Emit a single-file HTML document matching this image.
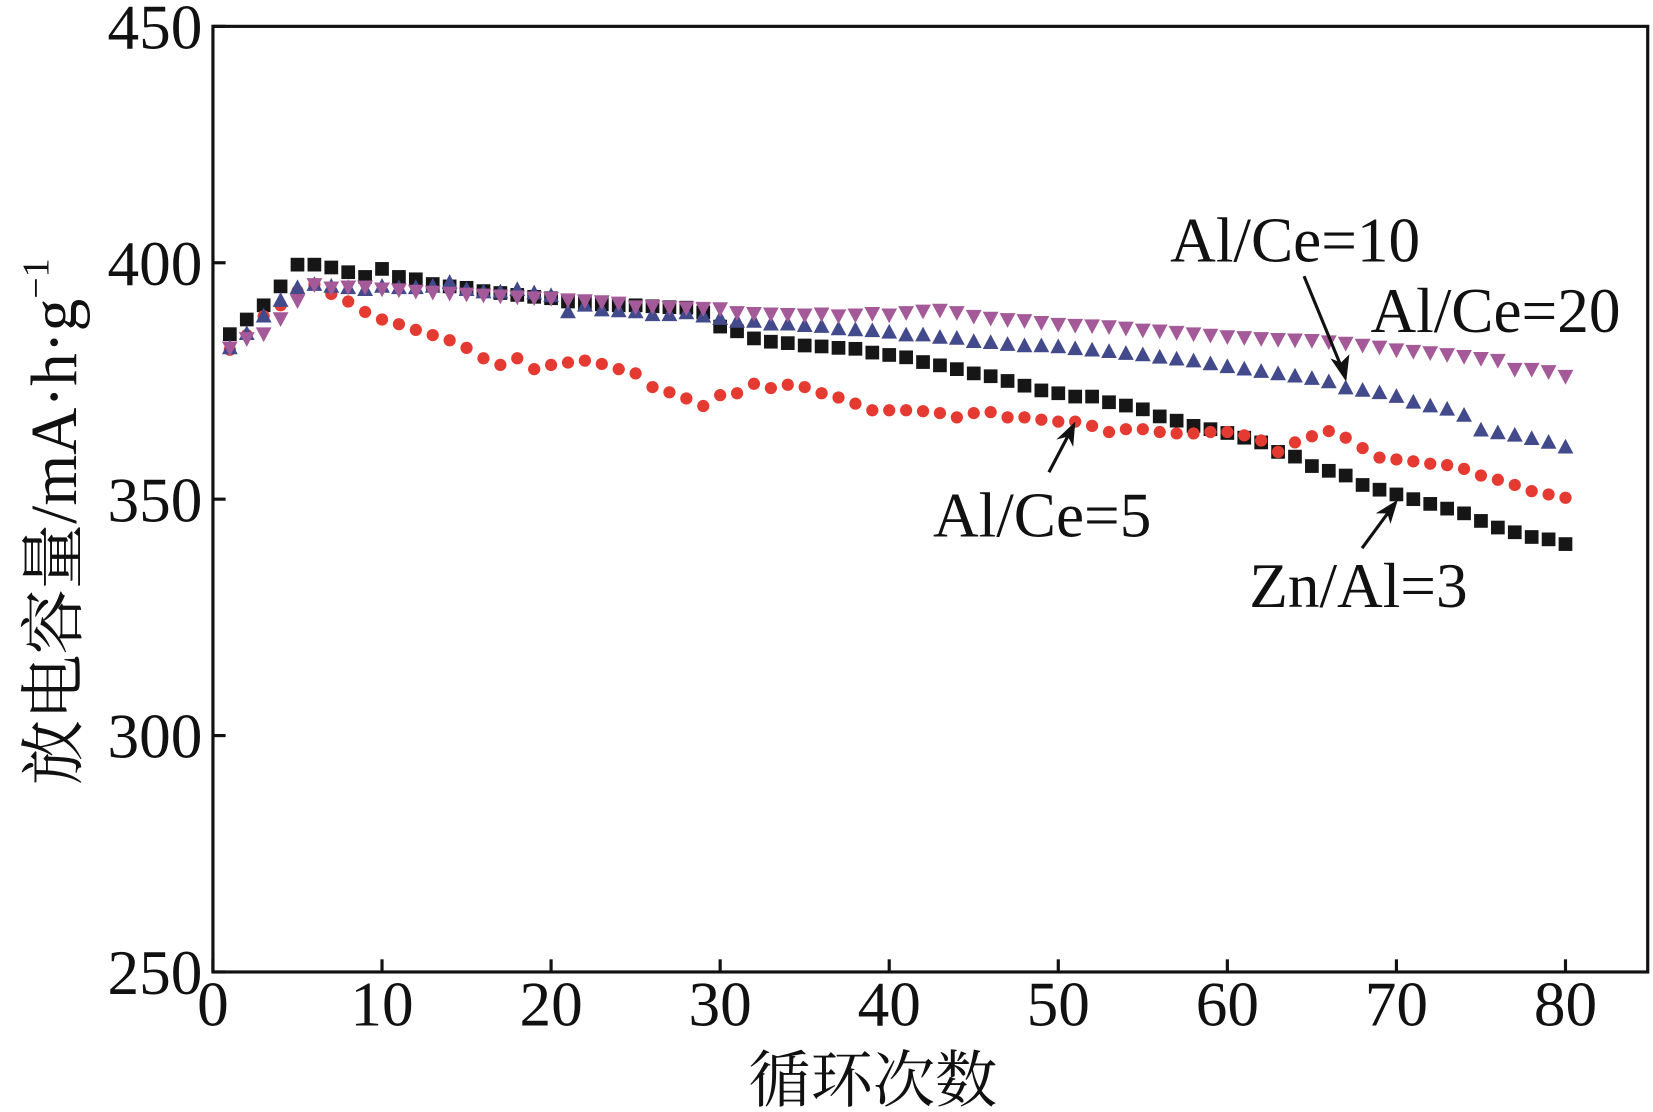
<!DOCTYPE html>
<html><head><meta charset="utf-8"><style>
body{margin:0;background:#fff}
svg{display:block}
text{font-family:"Liberation Serif","Noto Serif CJK SC",serif;fill:#111}
</style></head><body>
<svg id="chart" width="1653" height="1112" viewBox="0 0 1653 1112">
<g transform="scale(1.0542)">
<rect x="202" y="25" width="1361" height="897" fill="none" stroke="#111" stroke-width="3"/>
<g id="axes"></g>
<g id="series"></g>
<g>
<text x="1110" y="248" font-size="60">Al/Ce=10</text>
<text x="1300" y="315" font-size="60">Al/Ce=20</text>
<text x="885" y="509" font-size="60">Al/Ce=5</text>
<text x="1185" y="576" font-size="60">Zn/Al=3</text>
<line x1="1237" y1="262" x2="1274" y2="352" stroke="#111" stroke-width="3"/>
<polygon points="1277,362 1262,340 1272,344 1280,336" fill="#111"/>
<line x1="995" y1="448" x2="1016" y2="408" stroke="#111" stroke-width="3"/>
<polygon points="1020,400 1018,424 1013,414 1002,417" fill="#111"/>
<line x1="1292" y1="520" x2="1320" y2="482" stroke="#111" stroke-width="3"/>
<polygon points="1326,474 1319,497 1316,487 1305,487" fill="#111"/>
</g>
<text x="828" y="1045" font-size="59" text-anchor="middle">循环次数</text>
<text transform="translate(72,495) rotate(-90)" font-size="62" text-anchor="middle">放电容量/mA·h·g<tspan font-size="36" dy="-26">−1</tspan></text>
</g>
</svg>
<script>
const xTicks=[0,10,20,30,40,50,60,70,80];
const yTicks=[250,300,350,400,450];
const znal3=[384.9,388,391,395,399.6,399.6,399,398,397,398.7,397,396.5,395.5,395,394.7,394,393.6,393.2,392.8,392.5,391.8,391.5,391.2,391,391,390.8,390.6,390.5,389.5,386.5,385.5,384,383.3,383,382.5,382.3,382,381.8,381,380.5,380,379,378.3,377.5,376.6,376,375,374,373,372.4,371.7,371.7,370.5,369.8,369,367.5,366.6,365.5,364.8,364,363,362,360,359,357,356,355,353,352,351,350,349,348,347,345.4,344,343,342,341.5,340.5];
const alce5=[381.6,384.7,388.7,391,394,395.4,393.4,391.8,389.6,388,387,385.8,384.7,383.6,382,379.8,378.4,379.8,377.5,378.4,378.9,379.3,378.6,377.5,376.6,373.7,372.6,371.3,369.7,372,372.4,374.4,373.5,374.2,373.7,372.4,371.5,370.2,368.8,368.8,368.8,368.6,368.2,367.3,368.2,368.4,367.3,367.3,366.8,366.4,366.4,365.5,364.2,364.8,364.8,364.2,363.9,363.9,364.2,364.2,363.5,362.4,360,362,363.3,364.4,363,360.8,358.8,358.4,358,357.5,357.2,356.4,355,354.1,353,351.7,351,350.3];
const alce10=[382,385,388.7,392,394.7,395.4,395,394.7,394.3,395,394.7,394.7,395,395.8,394.3,393.8,393.8,394.3,393.6,393,389.6,391,390,389.8,389.6,389,389,389.4,388.7,388.2,387.6,387.6,387,387,386.7,386.5,386,385.8,385.6,385.3,384.7,384.7,384.2,384,383.3,383.1,382.7,382.4,382.4,382.2,381.8,381.5,381.2,380.8,380.5,380,379.6,379.2,378.6,378,377.5,377,376.5,376,375.5,374.8,373.5,373,372.5,371.7,370.5,369.7,369,367.7,364.6,364,363.5,362.8,362,361];
const alce20=[382,384,385,388.2,392,395.4,394.7,394.9,394.9,394.5,394.3,394,393.8,393.6,393.4,393.2,393,392.8,392.6,392.5,392.2,392,391.8,391.5,390.7,390.8,390.6,390.5,390.4,390.3,389.5,389.3,389.2,389.1,389,389.2,388.8,389,389.3,389,389.5,389.8,390,389.5,388.7,388.3,388,387.8,387.4,387,386.8,386.7,386.5,386.2,385.8,385.6,385.3,385,384.7,384.4,384.2,384,383.8,383.7,383.6,383.3,383,382.6,382.2,381.6,381.3,381,380.6,380.2,379.8,379.4,377.5,377.5,377,376];
const NS='http://www.w3.org/2000/svg';
const X=v=>202+v*(1485-202)/80;
const Y=v=>922-(v-250)*(922-25)/200;
function mk(tag,attrs,parent){const e=document.createElementNS(NS,tag);for(const k in attrs)e.setAttribute(k,attrs[k]);parent.appendChild(e);return e;}
const ax=document.getElementById('axes');
xTicks.forEach(t=>{
  const l=mk('line',{x1:X(t),x2:X(t),y1:922,y2:910,stroke:'#111','stroke-width':3},ax);
  
  
  const tx=mk('text',{x:X(t),y:973,'font-size':60,'text-anchor':'middle'},ax);
  tx.textContent=t;
  
  
});
yTicks.forEach(t=>{
  const l=mk('line',{x1:202,x2:214,y1:Y(t),y2:Y(t),stroke:'#111','stroke-width':3},ax);
  
  
  const tx=mk('text',{x:192,y:Y(t)+21,'font-size':60,'text-anchor':'end'},ax);
  tx.textContent=t;
  
  
});
const sg=document.getElementById('series');
function draw(data,name,color,shape){
  const g=mk('g',{fill:color},sg);
  
  
  data.forEach((v,i)=>{
    const cx=X(i+1),cy=Y(v);let m;
    if(shape==='sq')m=mk('rect',{x:cx-6.5,y:cy-6.5,width:13,height:13},g);
    else if(shape==='ci')m=mk('circle',{cx:cx,cy:cy,r:5.8},g);
    else if(shape==='up')m=mk('polygon',{points:`${cx},${cy-8} ${cx-7.5},${cy+6} ${cx+7.5},${cy+6}`},g);
    else m=mk('polygon',{points:`${cx},${cy+8} ${cx-7.5},${cy-6} ${cx+7.5},${cy-6}`},g);
    
    
  });
}
draw(znal3,'series-znal3','#161616','sq');
draw(alce5,'series-alce5','#e53a32','ci');
draw(alce10,'series-alce10','#434a8c','up');
draw(alce20,'series-alce20','#a45a98','dn');
</script>
</body></html>
